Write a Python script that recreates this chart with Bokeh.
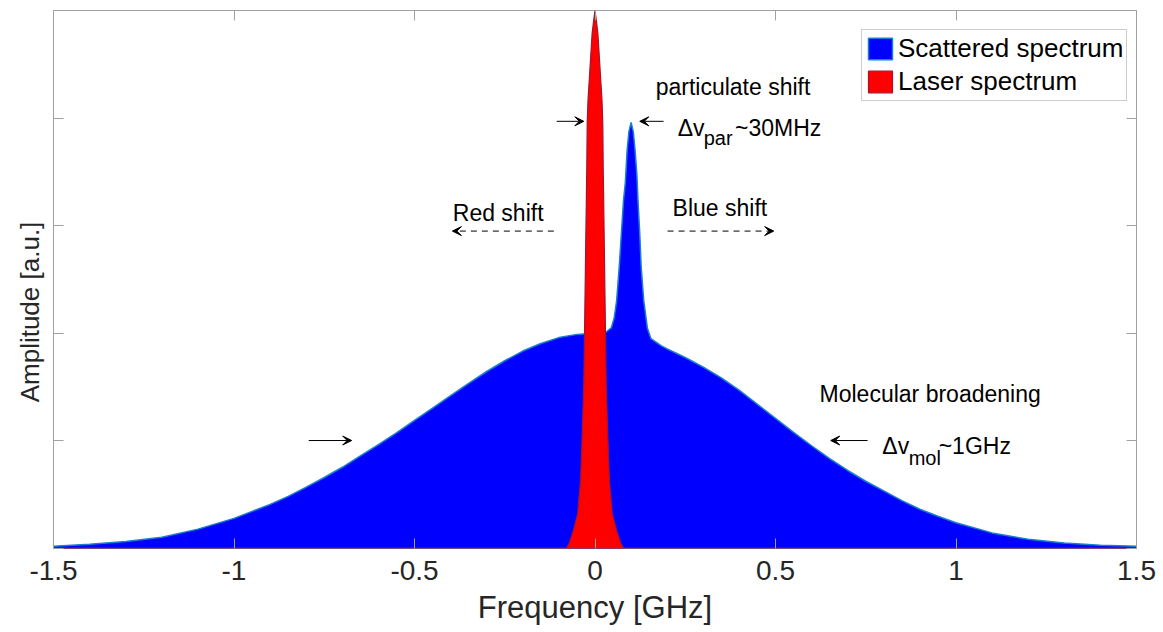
from bokeh.plotting import figure
from bokeh.models import (LinearAxis, FixedTicker, Legend, LegendItem, Label,
                          Arrow, VeeHead, Range1d, CustomLabelingPolicy)
from bokeh.embed import file_html
from bokeh.resources import INLINE

# ---------------- data ----------------
# Scattered spectrum: broad molecular (Gaussian-like) + narrow particulate peak
scattered_x = [-1.50, -1.40, -1.30, -1.20, -1.10, -1.00, -0.95, -0.90, -0.85, -0.80,
               -0.75, -0.70, -0.65, -0.60, -0.55, -0.50, -0.45, -0.40, -0.35, -0.30,
               -0.25, -0.20, -0.15, -0.10, -0.05, 0.00, 0.03, 0.045, 0.053, 0.060,
               0.067, 0.073, 0.079, 0.084, 0.089, 0.094, 0.100, 0.106, 0.111, 0.116,
               0.119, 0.124, 0.128, 0.135, 0.145, 0.155, 0.183, 0.20, 0.25, 0.30,
               0.35, 0.40, 0.45, 0.50, 0.55, 0.60, 0.65, 0.70, 0.75, 0.80,
               0.85, 0.90, 0.95, 1.00, 1.10, 1.20, 1.30, 1.40, 1.50]
scattered_y = [0.004, 0.008, 0.013, 0.021, 0.036, 0.056, 0.069, 0.082, 0.097, 0.114,
               0.132, 0.151, 0.172, 0.193, 0.215, 0.238, 0.261, 0.284, 0.307, 0.329,
               0.349, 0.367, 0.381, 0.392, 0.398, 0.400, 0.402, 0.410, 0.428, 0.461,
               0.522, 0.585, 0.647, 0.680, 0.740, 0.775, 0.792, 0.775, 0.740, 0.695,
               0.647, 0.585, 0.522, 0.461, 0.410, 0.390, 0.377, 0.371, 0.355, 0.337,
               0.317, 0.294, 0.268, 0.242, 0.216, 0.191, 0.167, 0.145, 0.125, 0.107,
               0.089, 0.073, 0.060, 0.048, 0.029, 0.017, 0.010, 0.006, 0.004]

# Laser spectrum: very narrow line at 0 GHz
laser_x = [-1.50, -0.080, -0.072, -0.060, -0.048, -0.040, -0.035, -0.031, -0.029,
           -0.027, -0.025, -0.0227, -0.0216, -0.0194, -0.0138, -0.008, -0.004, 0.000,
           0.004, 0.008, 0.0138, 0.0194, 0.0216, 0.0227, 0.025, 0.027, 0.029, 0.031,
           0.035, 0.040, 0.048, 0.060, 0.072, 0.080, 1.50]
laser_y = [0.0, 0.0, 0.009, 0.033, 0.065, 0.126, 0.22, 0.31, 0.40,
           0.50, 0.60, 0.71, 0.79, 0.833, 0.894, 0.957, 0.98, 1.00,
           0.98, 0.957, 0.894, 0.833, 0.79, 0.71, 0.60, 0.50, 0.40, 0.31,
           0.22, 0.126, 0.065, 0.033, 0.009, 0.0, 0.0]

x_ticks = [-1.5, -1.0, -0.5, 0.0, 0.5, 1.0, 1.5]
x_tick_labels = ["-1.5", "-1", "-0.5", "0", "0.5", "1", "1.5"]
y_ticks = [0.0, 0.2, 0.4, 0.6, 0.8, 1.0]

series_names = ["Scattered spectrum", "Laser spectrum"]

# ---------------- figure ----------------
FONT = "Liberation Sans"
FRAME = "#a0a0a0"
TXT = "#262626"

p = figure(width=1163, height=632, x_range=Range1d(-1.5, 1.5), y_range=Range1d(0, 1),
           output_backend="svg", toolbar_location=None,
           min_border_left=53, min_border_right=27, min_border_top=10,
           min_border_bottom=84)
p.background_fill_color = "white"
p.border_fill_color = "white"
p.grid.visible = False
p.outline_line_color = FRAME
p.outline_line_width = 1

# polygons built from the data arrays
blue_xs = [scattered_x[0]] + scattered_x + [scattered_x[-1]]
blue_ys = [0.0] + scattered_y + [0.0]
blue = p.patch(blue_xs, blue_ys, fill_color="#0000FF", line_color="#1A7FCC",
               line_width=1.5)
red = p.patch(laser_x, laser_y, fill_color="#FF0000", line_color="#A2142F",
              line_width=1.2)

no_labels = "return new Set()"

# axes
def style_axis(ax, labels=True):
    ax.axis_line_color = None
    ax.major_tick_line_color = FRAME
    ax.major_tick_in = 10
    ax.major_tick_out = 0
    ax.minor_tick_line_color = None
    if labels:
        ax.major_label_text_font = FONT
        ax.major_label_text_font_size = "28px"
        ax.major_label_text_color = TXT
    else:
        ax.major_label_text_font_size = "0px"
        ax.major_label_standoff = 0
        ax.major_label_policy = CustomLabelingPolicy(code=no_labels)

xa = p.xaxis[0]
xa.ticker = FixedTicker(ticks=x_ticks)
xa.major_label_overrides = {t: l for t, l in zip(x_ticks, x_tick_labels)}
style_axis(xa)
xa.major_label_standoff = 12
xa.axis_label = "Frequency [GHz]"
xa.axis_label_text_font = FONT
xa.axis_label_text_font_size = "31px"
xa.axis_label_text_font_style = "normal"
xa.axis_label_text_color = TXT
xa.axis_label_standoff = 7

ya = p.yaxis[0]
ya.ticker = FixedTicker(ticks=y_ticks)
style_axis(ya, labels=False)
ya.axis_label = "Amplitude [a.u.]" + " " * 9
ya.axis_label_text_font = FONT
ya.axis_label_text_font_size = "26px"
ya.axis_label_text_font_style = "normal"
ya.axis_label_text_color = TXT
ya.axis_label_standoff = 9

top = LinearAxis(ticker=FixedTicker(ticks=x_ticks))
style_axis(top, labels=False)
p.add_layout(top, "above")
right = LinearAxis(ticker=FixedTicker(ticks=y_ticks))
style_axis(right, labels=False)
p.add_layout(right, "right")

# legend
legend = Legend(items=[LegendItem(label=series_names[0], renderers=[blue]),
                       LegendItem(label=series_names[1], renderers=[red])],
                location=(808, 447))
legend.label_text_font = FONT
legend.label_text_font_size = "26px"
legend.label_text_color = "black"
legend.glyph_width = 30
legend.glyph_height = 27
legend.label_height = 27
legend.label_standoff = 3
legend.spacing = 2
legend.padding = 3
legend.margin = 0
legend.border_line_color = "#999999"
legend.border_line_width = 1
legend.background_fill_color = "white"
legend.background_fill_alpha = 1
p.add_layout(legend)

# annotations (positions in data units)
def txt(x, y, s, size="23px"):
    p.add_layout(Label(x=x, y=y, text=s, text_font=FONT, text_font_size=size,
                       text_color="black", text_align="left",
                       text_baseline="alphabetic"))

txt(0.168, 0.857, "particulate shift")
txt(0.229, 0.781, "Δv")
txt(0.301, 0.763, "par", "20px")
txt(0.388, 0.781, "~30MHz")
txt(-0.394, 0.6245, "Red shift")
txt(0.215, 0.632, "Blue shift")
txt(0.622, 0.288, "Molecular broadening")
txt(0.796, 0.1914, "Δv")
txt(0.869, 0.169, "mol", "20px")
txt(0.952, 0.1914, "~1GHz")

def arrow(x0, y0, x1, y1, dash="solid"):
    p.add_layout(Arrow(end=VeeHead(size=9, fill_color="black", line_color="black",
                                   line_width=1),
                       x_start=x0, y_start=y0, x_end=x1, y_end=y1,
                       line_color="black", line_width=1, line_dash=dash))

arrow(-0.106, 0.794, -0.031, 0.794)
arrow(0.190, 0.794, 0.124, 0.794)
arrow(-0.114, 0.590, -0.395, 0.590, "6 5")
arrow(0.201, 0.590, 0.495, 0.590, "6 5")
arrow(-0.793, 0.2007, -0.674, 0.2007)
arrow(0.755, 0.2007, 0.653, 0.2007)

open("out.html", "w").write(file_html(p, INLINE))
